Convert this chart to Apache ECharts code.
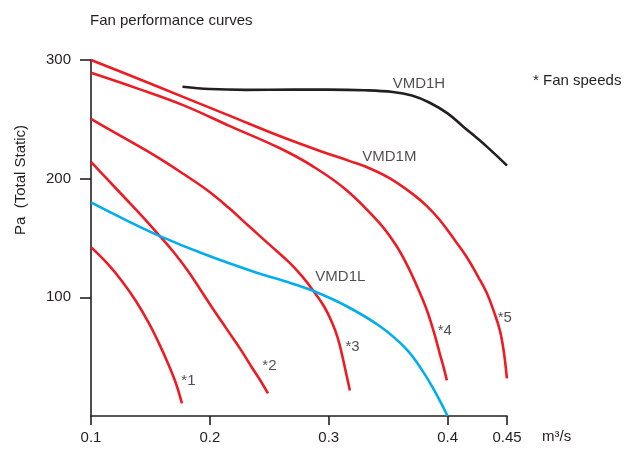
<!DOCTYPE html>
<html>
<head>
<meta charset="utf-8">
<script src="https://cdn.jsdelivr.net/npm/echarts@6/dist/echarts.min.js"></script>
<style>html,body{margin:0;padding:0;background:#fff}#c{width:643px;height:449px}</style>
</head>
<body>
<div id="c"></div>
<script>
// ---- data ----
var xTicks = [0.1, 0.2, 0.3, 0.4, 0.45];
var yTicks = [100, 200, 300];

var speed1 = [[0.1,142.3],[0.1135,128.8],[0.1261,113.6],[0.1379,96.7],[0.1488,78.1],[0.1572,61.2],[0.1648,44.3],[0.1715,27.4],[0.1765,10.6]];
var speed2 = [[0.1,214.2],[0.1143,198.9],[0.1286,183.7],[0.1429,168.5],[0.1572,152.5],[0.1698,137.8],[0.1816,122.2],[0.1925,105.8],[0.2034,89.1],[0.2144,73.0],[0.2253,57.0],[0.2354,40.9],[0.243,29.1],[0.2489,19.0]];
var speed3 = [[0.1,250.4],[0.116,241.1],[0.1353,230.1],[0.1555,218.3],[0.1765,204.8],[0.1976,190.4],[0.2161,175.2],[0.2337,159.2],[0.2506,144.0],[0.2674,128.8],[0.2775,117.8],[0.2867,106.0],[0.296,92.5],[0.3027,79.0],[0.3077,65.5],[0.3111,52.0],[0.3145,36.7],[0.3178,21.5]];
var speed4 = [[0.1,289.2],[0.1387,276.1],[0.1774,262.0],[0.2169,244.3],[0.259,225.6],[0.2867,210.4],[0.3153,190.1],[0.3431,162.2],[0.3557,145.3],[0.3658,127.6],[0.375,107.7],[0.3826,89.1],[0.3885,70.6],[0.3936,52.0],[0.3969,40.2],[0.3994,30.0]];
var speed5 = [[0.1,300],[0.1387,284.6],[0.1774,268.9],[0.2169,252.9],[0.2564,236.8],[0.2951,222.5],[0.3178,214.8],[0.3347,208.6],[0.3515,200.2],[0.3708,187.0],[0.3826,176.9],[0.3936,165.0],[0.4061,148.1],[0.4162,133.8],[0.4255,117.7],[0.4331,103.4],[0.4389,88.2],[0.444,72.2],[0.4474,53.6],[0.4499,31.7]];
var vmd1l = [[0.1,180],[0.1286,165.5],[0.158,151.6],[0.1973,135.6],[0.2394,120.7],[0.2632,113.6],[0.2867,105.5],[0.3151,92.5],[0.3431,75.6],[0.3655,56.2],[0.3792,37.6],[0.3893,20.7],[0.4,0]];
var vmd1h = [[0.177,277.5],[0.2,275.5],[0.23,274.8],[0.27,275],[0.3,275],[0.33,274.5],[0.354,273],[0.37,270],[0.385,264],[0.4,255],[0.413,244],[0.433,227],[0.45,211]];

var labelNames = ['VMD1H','VMD1M','VMD1L','*1','*2','*3','*4','*5'];
var labelX = [0.3759, 0.351, 0.3098, 0.182, 0.2501, 0.32, 0.3977, 0.4482];
var labelY = [280, 218, 117, 30, 42.6, 58, 72, 82.3];

// ---- chart ----
var RED = '#ed1c24', BLUE = '#00aeef', BLACK = '#231f20', TXT = '#231f20';
var FONT = 'Liberation Sans, Arial, sans-serif';

function lineSeries(name, data, color) {
  return {
    name: name, type: 'line', data: data, showSymbol: false, symbol: 'none',
    smooth: 0.4, silent: true,
    lineStyle: { color: color, width: 2.6 }, z: 3
  };
}

var labelData = labelNames.map(function (n, i) { return [labelX[i], labelY[i], n]; });

var chart = echarts.init(document.getElementById('c'), null, { renderer: 'canvas' });
chart.setOption({
  animation: false,
  backgroundColor: '#fff',
  textStyle: { fontFamily: FONT, color: TXT },
  title: {
    text: 'Fan performance curves', left: 85, top: 8,
    textStyle: { fontSize: 15, fontWeight: 'normal', color: TXT, fontFamily: FONT }
  },
  grid: { left: 91, right: 136, top: 60, bottom: 33, containLabel: false },
  xAxis: {
    type: 'value', min: 0.1, max: 0.45,
    splitLine: { show: false },
    axisLine: { show: true, onZero: false, lineStyle: { color: BLACK, width: 1.6 } },
    axisTick: { show: true, length: 9, customValues: xTicks, lineStyle: { color: BLACK, width: 1.6 } },
    axisLabel: { customValues: xTicks, margin: 14, fontSize: 15, color: TXT, fontFamily: FONT,
      formatter: function (v) { return String(Math.round(v * 100) / 100); } }
  },
  yAxis: {
    type: 'value', min: 0, max: 300,
    splitLine: { show: false },
    axisLine: { show: true, onZero: false, lineStyle: { color: BLACK, width: 1.6 } },
    axisTick: { show: true, length: 11, customValues: yTicks, lineStyle: { color: BLACK, width: 1.6 } },
    axisLabel: { customValues: yTicks, margin: 20, fontSize: 15, color: TXT, fontFamily: FONT }
  },
  series: [
    lineSeries('*1', speed1, RED),
    lineSeries('*2', speed2, RED),
    lineSeries('*3', speed3, RED),
    lineSeries('*4', speed4, RED),
    lineSeries('*5', speed5, RED),
    lineSeries('VMD1L', vmd1l, BLUE),
    lineSeries('VMD1H', vmd1h, BLACK),
    {
      name: 'labels', type: 'scatter', data: labelData, symbolSize: 1,
      itemStyle: { color: 'rgba(0,0,0,0)' }, silent: true, z: 5,
      label: {
        show: true, position: 'inside', fontSize: 15, color: TXT, fontFamily: FONT,
        formatter: function (p) { return p.value[2]; }
      }
    }
  ],
  graphic: [
    { type: 'text', x: 533, y: 81, silent: true,
      style: { text: '* Fan speeds', fontSize: 15, fill: TXT, fontFamily: FONT, textVerticalAlign: 'middle', verticalAlign: 'middle' } },
    { type: 'text', x: 542, y: 437, silent: true,
      style: { text: 'm³/s', fontSize: 15, fill: TXT, fontFamily: FONT, textVerticalAlign: 'middle', verticalAlign: 'middle' } },
    { type: 'text', x: 21, y: 180, rotation: Math.PI / 2, silent: true,
      style: { text: 'Pa  (Total Static)', fontSize: 15, fill: TXT, fontFamily: FONT,
        align: 'center', verticalAlign: 'middle', textAlign: 'center', textVerticalAlign: 'middle' } }
  ]
});
</script>
</body>
</html>
